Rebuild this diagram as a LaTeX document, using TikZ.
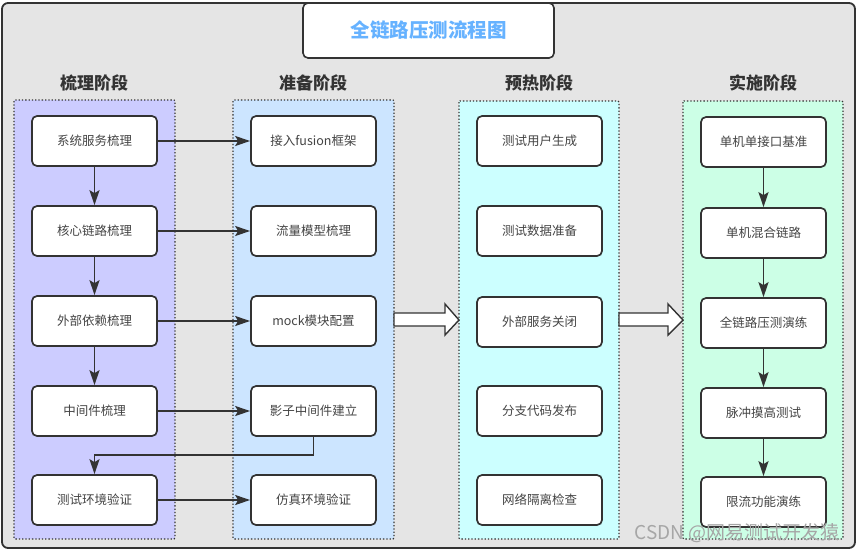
\documentclass[tikz,border=0pt]{standalone}
\usepackage{fontspec}
\setmainfont{Noto Sans CJK SC}
\usetikzlibrary{arrows.meta}
\definecolor{edge}{HTML}{333333}
\definecolor{bgray}{HTML}{E5E5E5}
\definecolor{titleblue}{HTML}{66B2FF}
\definecolor{colA}{HTML}{CCCCFF}
\definecolor{colB}{HTML}{CCE5FF}
\definecolor{colC}{HTML}{CCFFFF}
\definecolor{colD}{HTML}{CCFFE6}
\definecolor{txt}{HTML}{444444}
\tikzset{
  stepbox/.style={draw=edge, line width=1.7pt, fill=white, rounded corners=5pt,
    minimum width=125pt, minimum height=50pt, inner sep=0pt,
    font=\fontsize{12.5}{14}\selectfont, text=txt},
  phase/.style={draw=edge, line width=1.3pt, dotted, rounded corners=1pt},
  header/.style={font=\fontsize{17}{20}\selectfont\bfseries, text=edge},
  arr/.style={draw=edge, line width=1.8pt, -{Stealth[length=15pt,width=10pt,inset=3pt]}},
  bigarrow/.style={draw=edge, line width=1.4pt, fill=white, line join=miter},
}
\begin{document}
\begin{tikzpicture}[x=1pt,y=-1pt]
\useasboundingbox (0,0) rectangle (858,552);
% outer frame
\draw[draw=edge, line width=1.8pt, fill=bgray, rounded corners=6pt] (2,3) rectangle (855,548);
% title
\node[draw=edge, line width=1.6pt, fill=white, rounded corners=5pt,
  minimum width=251pt, minimum height=55pt, inner sep=0pt,
  font=\fontsize{19.5}{22}\selectfont\bfseries, text=titleblue] (title) at (428.5,30.5) {全链路压测流程图};
% phase containers
\fill[colA] (14,100) rectangle (175,539);
\draw[phase] (14,100) rectangle (175,539);
\fill[colB] (233,100) rectangle (394,539);
\draw[phase] (233,100) rectangle (394,539);
\fill[colC] (459,101) rectangle (619,539);
\draw[phase] (459,101) rectangle (619,539);
\fill[colD] (683,101) rectangle (843,539);
\draw[phase] (683,101) rectangle (843,539);
% headers
\node[header] (h1) at (94,83) {梳理阶段};
\node[header] (h2) at (313,83) {准备阶段};
\node[header] (h3) at (539,83) {预热阶段};
\node[header] (h4) at (763,83) {实施阶段};
% column 1
\node[stepbox] (a1) at (94.5,141) {系统服务梳理};
\node[stepbox] (a2) at (94.5,231) {核心链路梳理};
\node[stepbox] (a3) at (94.5,321) {外部依赖梳理};
\node[stepbox] (a4) at (94.5,411) {中间件梳理};
\node[stepbox] (a5) at (94.5,500) {测试环境验证};
% column 2
\node[stepbox] (b1) at (313.5,141) {接入fusion框架};
\node[stepbox] (b2) at (313.5,231) {流量模型梳理};
\node[stepbox] (b3) at (313.5,321) {mock模块配置};
\node[stepbox] (b4) at (313.5,411) {影子中间件建立};
\node[stepbox] (b5) at (313.5,500) {仿真环境验证};
% column 3
\node[stepbox] (c1) at (539.5,141) {测试用户生成};
\node[stepbox] (c2) at (539.5,231) {测试数据准备};
\node[stepbox] (c3) at (539.5,322) {外部服务关闭};
\node[stepbox] (c4) at (539.5,411) {分支代码发布};
\node[stepbox] (c5) at (539.5,500) {网络隔离检查};
% column 4
\node[stepbox] (d1) at (763.5,142) {单机单接口基准};
\node[stepbox] (d2) at (763.5,233) {单机混合链路};
\node[stepbox] (d3) at (763.5,323) {全链路压测演练};
\node[stepbox] (d4) at (763.5,413) {脉冲摸高测试};
\node[stepbox] (d5) at (763.5,502) {限流功能演练};
% vertical arrows col 1
\draw[arr] (a1) -- (a2);
\draw[arr] (a2) -- (a3);
\draw[arr] (a3) -- (a4);
% horizontal arrows col1 -> col2
\draw[arr] (a1) -- (b1);
\draw[arr] (a2) -- (b2);
\draw[arr] (a3) -- (b3);
\draw[arr] (a4) -- (b4);
\draw[arr] (a5) -- (b5);
% routed arrow
\coordinate (bend) at (313.5,455);
\draw[arr, rounded corners=0pt] (b4.south) -- (bend) -| (a5.north);
% vertical arrows col 4
\draw[arr] (d1) -- (d2);
\draw[arr] (d2) -- (d3);
\draw[arr] (d3) -- (d4);
\draw[arr] (d4) -- (d5);
% block arrows
\draw[bigarrow] (394,313) -- (445,313) -- (445,304) -- (459,320) -- (445,335) -- (445,326) -- (394,326) -- cycle;
\draw[bigarrow] (619,313) -- (668,313) -- (668,304) -- (683,320) -- (668,335) -- (668,326) -- (619,326) -- cycle;
% watermark
\node[font=\fontsize{19}{22}\selectfont, text=gray!70, anchor=east, inner sep=0pt] (wm) at (840,533) {CSDN @网易测试开发猿};
\end{tikzpicture}
\end{document}
